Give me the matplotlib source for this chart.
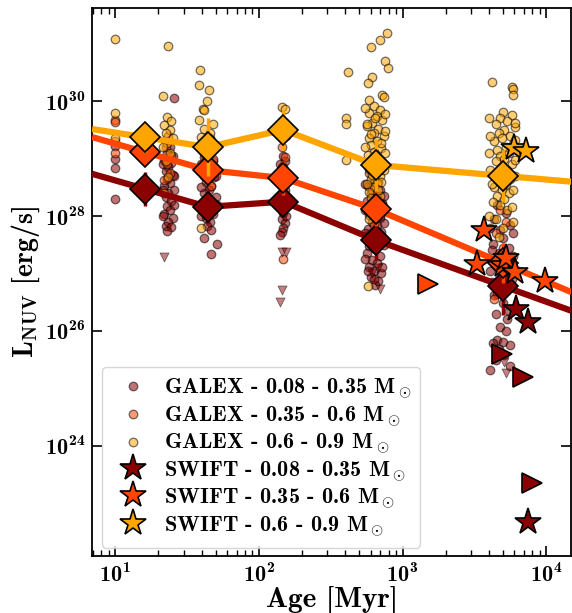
import numpy as np
import matplotlib
matplotlib.use('Agg')
import matplotlib.pyplot as plt
from matplotlib.ticker import FixedLocator, NullLocator, LogLocator, NullFormatter

plt.rcParams['font.family'] = ['cmb10', 'DejaVu Serif']
plt.rcParams['mathtext.fontset'] = 'custom'
plt.rcParams['mathtext.rm'] = 'cmb10'
plt.rcParams['mathtext.bf'] = 'cmb10'
plt.rcParams['mathtext.it'] = 'cmb10'
plt.rcParams['axes.unicode_minus'] = False
plt.rcParams['axes.formatter.use_mathtext'] = True

mass_bins = ['0.08 - 0.35', '0.35 - 0.6', '0.6 - 0.9']
colors = ['darkred', 'orangered', 'orange']

# ---- GALEX detections: log10(age/Myr), log10(L_NUV) ----
galex_low_logage = [1.00, 1.00, 1.00, 1.00,
    1.41, 1.38, 1.36, 1.40, 1.34, 1.39, 1.37, 1.35, 1.40, 1.36, 1.38, 1.34, 1.41, 1.37, 1.35, 1.39, 1.36, 1.38, 1.34, 1.40, 1.37, 1.35, 1.39, 1.36,
    1.33, 1.41, 1.33, 1.41, 1.33,
    1.65, 1.62, 1.68, 1.64, 1.66, 1.61, 1.69, 1.63, 1.67, 1.65, 1.62, 1.70, 1.64, 1.66, 1.61, 1.68, 1.63, 1.66, 1.64, 1.67, 1.62, 1.71, 1.67,
    1.60, 1.70, 1.60, 1.71, 1.60,
    2.17, 2.18, 2.16, 2.19, 2.17, 2.16, 2.18, 2.17, 2.16, 2.18, 2.17, 2.16, 2.18, 2.17, 2.16, 2.15,
    2.15, 2.19, 2.15, 2.19,
    2.80, 2.76, 2.84, 2.78, 2.82, 2.75, 2.86, 2.79, 2.81, 2.77, 2.84, 2.79, 2.82, 2.76, 2.85, 2.80, 2.78, 2.83, 2.77, 2.81, 2.75, 2.84, 2.79, 2.82, 2.77, 2.80, 2.85, 2.78, 2.83, 2.81,
    2.74, 2.87, 2.74, 2.87, 2.74, 2.87, 2.74, 2.86, 2.80, 2.76,
    3.66, 3.72, 3.64, 3.75, 3.68, 3.70, 3.63, 3.74, 3.67, 3.71, 3.65, 3.76, 3.69, 3.62, 3.73, 3.66, 3.70, 3.64, 3.74, 3.68, 3.72, 3.66, 3.70, 3.63, 3.75, 3.67, 3.71, 3.65, 3.61, 3.75,
    3.61, 3.77, 3.62, 3.77, 3.61, 3.76, 3.65, 3.73]
galex_low_loglum = [29.22, 28.99, 28.83, 28.30,
    30.05, 29.20, 29.10, 29.05, 28.98, 28.92, 28.85, 28.78, 28.72, 28.65, 28.58, 28.52, 28.46, 28.40, 28.33, 28.26, 28.18, 28.10, 28.03, 27.97, 27.90, 27.83, 27.81, 27.74,
    28.90, 28.70, 28.45, 28.20, 28.00,
    29.10, 29.02, 28.95, 28.88, 28.80, 28.74, 28.68, 28.60, 28.53, 28.46, 28.40, 28.33, 28.26, 28.18, 28.10, 28.03, 27.96, 27.90, 27.82, 27.76, 27.62, 27.51, 27.34,
    28.90, 28.70, 28.50, 28.20, 28.00,
    29.05, 28.95, 28.85, 28.75, 28.65, 28.55, 28.45, 28.35, 28.25, 28.15, 28.05, 27.95, 27.88, 27.80, 27.72, 27.67,
    28.90, 28.60, 28.30, 28.00,
    28.60, 28.52, 28.45, 28.40, 28.33, 28.27, 28.22, 28.15, 28.08, 28.02, 27.96, 27.90, 27.84, 27.78, 27.72, 27.66, 27.60, 27.54, 27.48, 27.42, 27.36, 27.30, 27.24, 27.18, 27.12, 27.05, 27.00, 26.93, 26.86, 26.80,
    28.55, 28.35, 28.10, 27.88, 27.70, 27.50, 27.25, 27.12, 26.90, 27.05,
    28.20, 28.05, 27.95, 27.85, 27.75, 27.62, 27.52, 27.45, 27.35, 27.25, 27.15, 27.05, 26.95, 26.85, 26.75, 26.65, 26.49, 26.63, 26.35, 26.07, 26.00, 25.84, 25.81, 25.79, 25.75, 25.68, 25.58, 25.50, 25.32, 25.39,
    27.80, 27.70, 27.40, 27.30, 27.05, 26.90, 26.30, 26.20]

galex_mid_logage = [1.00, 1.00, 1.00, 1.00,
    1.37, 1.35, 1.39, 1.36, 1.38, 1.34,
    1.66, 1.63, 1.68, 1.65, 1.62, 1.67,
    2.17, 2.19, 2.16, 2.18, 2.17, 2.16, 2.17,
    2.80, 2.77, 2.83, 2.79, 2.81, 2.76, 2.84, 2.80, 2.78, 2.82,
    3.68, 3.72, 3.65, 3.70, 3.66, 3.74, 3.69, 3.64]
galex_mid_loglum = [29.67, 29.64, 29.30, 29.10,
    29.40, 29.20, 29.05, 28.90, 28.75, 28.62,
    29.35, 29.15, 29.00, 28.85, 28.70, 28.52,
    29.57, 29.39, 29.20, 29.02, 28.85, 28.70, 27.26,
    28.95, 28.75, 28.60, 28.45, 28.30, 28.15, 28.00, 27.85, 27.70, 27.55,
    28.10, 27.90, 27.70, 27.45, 27.20, 27.00, 26.80, 26.55]

galex_high_logage = [1.00, 1.00, 1.00,
    1.37, 1.33, 1.36, 1.39, 1.34, 1.38, 1.35, 1.40, 1.36, 1.33, 1.38, 1.35, 1.37, 1.34,
    1.59, 1.58, 1.65, 1.64, 1.61, 1.62, 1.58, 1.68, 1.62, 1.66, 1.60, 1.64, 1.67, 1.61, 1.63, 1.60,
    2.16, 2.18,
    2.89, 2.84, 2.78, 2.88, 2.90, 2.62, 2.79, 2.76, 2.86, 2.87, 2.77, 2.61, 2.61, 2.61, 2.76,
    2.80, 2.84, 2.77, 2.82, 2.86, 2.79, 2.75, 2.83, 2.80, 2.87, 2.77, 2.82, 2.78, 2.85, 2.80, 2.76, 2.83, 2.79, 2.86, 2.77, 2.81, 2.84, 2.78, 2.82, 2.80, 2.77, 2.84, 2.79, 2.82,
    2.74, 2.88, 2.81, 2.75, 2.88, 2.78, 2.85, 2.74, 2.88, 2.81, 2.75, 2.87, 2.79, 2.85, 2.75, 2.83, 2.78, 2.86, 2.81, 2.77,
    3.62, 3.76, 3.77, 3.77,
    3.70, 3.76, 3.68, 3.73, 3.65, 3.78, 3.71, 3.67, 3.75, 3.69, 3.64, 3.77, 3.72, 3.66, 3.74, 3.68, 3.71, 3.65, 3.76, 3.69, 3.73, 3.66, 3.70, 3.75, 3.67, 3.72, 3.64, 3.69, 3.74, 3.66, 3.71, 3.68, 3.73, 3.65, 3.70, 3.67,
    3.60, 3.78, 3.61, 3.78, 3.60, 3.78, 3.61, 3.78, 3.62, 3.77, 3.63, 3.76, 3.60, 3.77]
galex_high_loglum = [31.09, 29.79, 29.35,
    30.96, 30.09, 29.72, 29.66, 29.58, 29.50, 29.44, 29.36, 29.28, 29.20, 29.10, 28.95, 28.68, 28.40,
    30.54, 30.29, 30.20, 30.01, 29.87, 29.85, 29.67, 29.61, 29.52, 29.45, 29.38, 29.30, 29.22, 29.14, 29.05, 27.79,
    29.89, 29.86,
    31.18, 31.06, 30.94, 30.70, 30.57, 30.51, 30.42, 30.31, 30.10, 30.08, 30.02, 29.70, 29.61, 28.97, 26.78,
    29.92, 29.85, 29.80, 29.74, 29.68, 29.62, 29.56, 29.51, 29.45, 29.40, 29.35, 29.30, 29.24, 29.18, 29.12, 29.06, 29.00, 28.94, 28.88, 28.82, 28.76, 28.70, 28.64, 28.58, 28.50, 28.42, 28.35, 28.25, 28.15,
    29.88, 29.78, 29.70, 29.60, 29.48, 29.42, 29.28, 29.20, 29.10, 29.02, 28.92, 28.80, 28.72, 28.60, 28.55, 28.45, 28.32, 28.20, 28.05, 27.95,
    30.34, 30.25, 30.22, 30.10,
    29.81, 29.76, 29.70, 29.65, 29.60, 29.55, 29.50, 29.45, 29.40, 29.35, 29.30, 29.25, 29.20, 29.15, 29.10, 29.05, 29.00, 28.95, 28.90, 28.85, 28.80, 28.75, 28.70, 28.65, 28.60, 28.55, 28.50, 28.45, 28.40, 28.35, 28.30, 28.20, 28.10, 27.95, 27.80, 27.64,
    29.70, 29.62, 29.40, 29.32, 29.10, 28.98, 28.80, 28.70, 28.55, 28.45, 28.25, 28.15, 28.00, 27.90]

# GALEX upper limits (low-mass bin)
galex_ul_logage = [1.34, 2.16, 2.19, 2.16, 2.15, 2.79, 2.83, 2.84, 3.71, 3.72]
galex_ul_loglum = [27.29, 27.38, 27.38, 26.71, 26.51, 27.00, 27.09, 26.73, 25.45, 25.26]

# ---- Binned medians ----
bin_age = [16.2, 44, 148, 650, 5000]
bin_loglum = {
    'darkred':   [28.47, 28.16, 28.25, 27.58, 26.78],
    'orangered': [29.11, 28.80, 28.66, 28.12, 27.18],
    'orange':    [29.37, 29.20, 29.50, 28.89, 28.70],
}
bin_err = {
    'darkred':   [0.30, 0.30, 0.25, 0.35, 0.50],
    'orangered': [0.20, 0.20, 0.30, 0.30, 0.35],
    'orange':    [0.25, 0.50, 0.35, 0.45, 0.45],
}

# ---- SWIFT ----
swift_age = {
    'darkred':   [6120, 7460, 7530],
    'orangered': [3715, 3300, 5000, 5280, 6030, 9750],
    'orange':    [5960, 7260],
}
swift_loglum = {
    'darkred':   [26.38, 26.15, 22.67],
    'orangered': [27.76, 27.17, 27.15, 27.27, 27.03, 26.86],
    'orange':    [29.18, 29.14],
}
# SWIFT age lower limits (right triangles)
swift_lim_age = {'darkred': [4940, 6890, 7960], 'orangered': [1500]}
swift_lim_loglum = {'darkred': [25.60, 25.20, 23.35], 'orangered': [26.82]}

XLIM = (6.9, 15000)
YLIM = (1.2e22, 4.2e31)

fig = plt.figure(figsize=(5.72, 6.13), dpi=100)
ax = fig.add_axes([0.161, 0.093, 0.838, 0.894])
ax.set_xscale('log')
ax.set_yscale('log')

galex = [(galex_low_logage, galex_low_loglum), (galex_mid_logage, galex_mid_loglum),
         (galex_high_logage, galex_high_loglum)]
handles = []
for (la, ll), c, m in zip(galex, colors, mass_bins):
    h = ax.scatter(10 ** np.array(la), 10 ** np.array(ll), s=38, c=c, alpha=0.55,
                   edgecolors='k', linewidths=0.9, zorder=2,
                   label='GALEX - ' + m + r' M$_\odot$')
    handles.append(h)
ax.scatter(10 ** np.array(galex_ul_logage), 10 ** np.array(galex_ul_loglum), s=42, marker='v',
           c='darkred', alpha=0.5, edgecolors='k', linewidths=0.6, zorder=2)

def extend(ages, logl, xlo, xhi):
    la = np.log10(ages)
    ll = np.array(logl)
    s0 = (ll[1] - ll[0]) / (la[1] - la[0])
    s1 = (ll[-1] - ll[-2]) / (la[-1] - la[-2])
    lo = ll[0] + s0 * (np.log10(xlo) - la[0])
    hi = ll[-1] + s1 * (np.log10(xhi) - la[-1])
    x = np.concatenate([[xlo], ages, [xhi]])
    y = np.concatenate([[lo], ll, [hi]])
    return x, 10 ** y

for i, c in enumerate(colors):
    xl, yl = extend(np.array(bin_age, float), bin_loglum[c], XLIM[0], XLIM[1])
    ax.plot(xl, yl, color=c, lw=4.5, zorder=3 + i, solid_capstyle='butt')
    ll = np.array(bin_loglum[c])
    e = np.array(bin_err[c])
    yerr = [10 ** ll - 10 ** (ll - e), 10 ** (ll + e) - 10 ** ll]
    ax.errorbar(bin_age, 10 ** ll, yerr=yerr, fmt='none', ecolor=c, elinewidth=2.5,
                capsize=0, zorder=3 + i)
    ax.plot(bin_age, 10 ** ll, 'D', color=c, ms=15, mec='k', mew=1.2, zorder=3.5 + i)

for i, (c, m) in enumerate(zip(colors, mass_bins)):
    if c in swift_lim_age:
        ax.plot(swift_lim_age[c], 10 ** np.array(swift_lim_loglum[c]), '>', color=c, ms=15,
                mec='k', mew=1.2, zorder=8, linestyle='none')
    h, = ax.plot(swift_age[c], 10 ** np.array(swift_loglum[c]), '*', color=c, ms=20,
                 mec='k', mew=1.2, zorder=9, linestyle='none',
                 label='SWIFT - ' + m + r' M$_\odot$')
    handles.append(h)

ax.set_xlim(*XLIM)
ax.set_ylim(*YLIM)
ax.yaxis.set_major_locator(FixedLocator([1e24, 1e26, 1e28, 1e30]))
ax.yaxis.set_minor_locator(NullLocator())
ax.xaxis.set_major_locator(LogLocator(base=10))
ax.xaxis.set_minor_locator(LogLocator(base=10, subs=np.arange(2, 10)))
ax.xaxis.set_minor_formatter(NullFormatter())
ax.tick_params(which='both', direction='in', top=True, right=True, labelsize=16)
ax.tick_params(which='major', length=7, width=1.2, pad=5)
ax.tick_params(which='minor', length=4, width=1.0)
for s in ax.spines.values():
    s.set_linewidth(1.3)

ax.set_xlabel('Age [Myr]', fontsize=21, labelpad=0)
ax.set_ylabel(r'L$_{\rm NUV}$ [erg/s]', fontsize=20, labelpad=2)

leg = ax.legend(handles=handles, loc='lower left', bbox_to_anchor=(0.02, 0.015),
                borderaxespad=0, fontsize=16, frameon=True, handletextpad=0.4,
                labelspacing=0.12, borderpad=0.4, handleheight=0.9)
leg.get_frame().set_edgecolor('#cccccc')

fig.savefig('out.png', dpi=100)
